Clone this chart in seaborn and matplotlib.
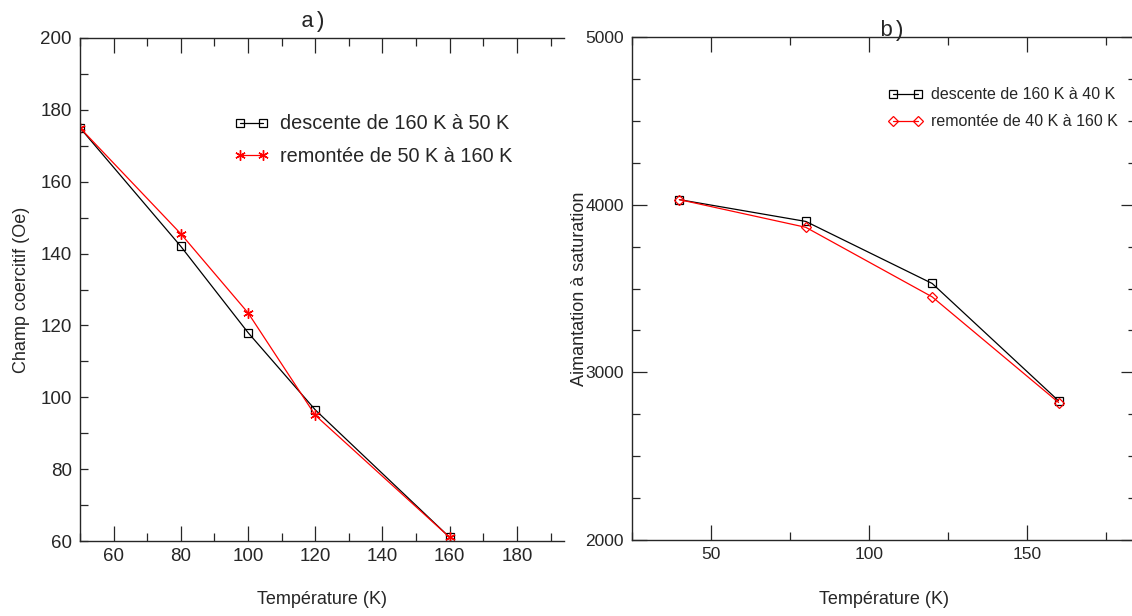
import matplotlib
matplotlib.use("Agg")
import matplotlib.pyplot as plt
import seaborn as sns
from matplotlib.ticker import MultipleLocator

# panel a) coercive field vs temperature
temp_a = [50, 80, 100, 120, 160]
champ_descente = [175, 142, 118, 96.5, 61]
champ_remontee = [175, 145.5, 123.5, 95, 61]
labels_a = ["descente de 160 K à 50 K", "remontée de 50 K à 160 K"]

# panel b) saturation magnetisation vs temperature
temp_b = [40, 80, 120, 160]
aim_descente = [4030, 3900, 3530, 2830]
aim_remontee = [4030, 3865, 3450, 2820]
labels_b = ["descente de 160 K à 40 K", "remontée de 40 K à 160 K"]

sns.set_style("ticks")
plt.rcParams['font.family'] = ['Liberation Sans', 'DejaVu Sans']
plt.rcParams['axes.linewidth'] = 1.0

W, H = 1132, 616
fig = plt.figure(figsize=(W / 100, H / 100), dpi=100)
ax1 = fig.add_axes([80 / W, 1 - 541 / H, 484 / W, 503 / H])
ax2 = fig.add_axes([632 / W, 1 - 540 / H, 504 / W, 503 / H])

# --- panel a
sns.lineplot(x=temp_a, y=champ_descente, ax=ax1, color='black', lw=0.9,
             marker='s', ms=6, mfc='none', mec='black', mew=0.9,
             label=labels_a[0])
sns.lineplot(x=temp_a, y=champ_remontee, ax=ax1, color='red', lw=0.9,
             marker=(6, 2, 0), ms=7.5, mec='red', mew=1.0,
             label=labels_a[1])
ax1.set_xlim(50, 194)
ax1.set_ylim(60, 200)
ax1.xaxis.set_minor_locator(MultipleLocator(10))
ax1.yaxis.set_major_locator(MultipleLocator(20))
ax1.yaxis.set_minor_locator(MultipleLocator(10))
ax1.set_xticks(range(60, 181, 20))
ax1.spines['right'].set_visible(False)
ax1.tick_params(which='both', direction='in', top=True, right=False, width=0.9,
                labelsize=13.5)
ax1.tick_params(axis='x', which='major', length=11, pad=5)
ax1.tick_params(axis='x', which='minor', length=6)
ax1.tick_params(axis='y', which='both', length=6, pad=6)
ax1.set_xlabel("Température (K)", fontsize=13, labelpad=19)
ax1.set_ylabel("Champ coercitif (Oe)", fontsize=13, labelpad=7)
ax1.set_title("a)", fontfamily='Liberation Mono', fontsize=16, pad=8, x=0.483)
ax1.legend(loc='upper left', bbox_to_anchor=(0.318, 0.848), frameon=False,
           numpoints=2, fontsize=14.3, handlelength=1.75, handletextpad=0.55,
           borderaxespad=0, borderpad=0, labelspacing=0.68)

# --- panel b
sns.lineplot(x=temp_b, y=aim_descente, ax=ax2, color='black', lw=0.9,
             marker='s', ms=6, mfc='none', mec='black', mew=0.9,
             label=labels_b[0])
sns.lineplot(x=temp_b, y=aim_remontee, ax=ax2, color='red', lw=0.9,
             marker='D', ms=5.5, mfc='none', mec='red', mew=0.9,
             label=labels_b[1])
ax2.set_xlim(25, 184.5)
ax2.set_ylim(2000, 5000)
ax2.xaxis.set_major_locator(MultipleLocator(50))
ax2.xaxis.set_minor_locator(MultipleLocator(25))
ax2.yaxis.set_major_locator(MultipleLocator(1000))
ax2.yaxis.set_minor_locator(MultipleLocator(250))
ax2.tick_params(which='both', direction='in', top=True, right=True, width=0.9,
                labelsize=12.5)
ax2.tick_params(which='major', length=11)
ax2.tick_params(which='minor', length=6)
ax2.tick_params(axis='x', pad=5)
ax2.tick_params(axis='y', pad=6)
ax2.set_xlabel("Température (K)", fontsize=13, labelpad=21)
ax2.set_ylabel("Aimantation à saturation", fontsize=13, labelpad=-2)
ax2.text(0.516, 1.012, "b)", transform=ax2.transAxes, ha='center',
         va='center', fontfamily='Liberation Mono', fontsize=16)
ax2.legend(loc='upper left', bbox_to_anchor=(0.508, 0.9), frameon=False,
           numpoints=2, fontsize=11.5, handlelength=2.2, handletextpad=0.5,
           borderaxespad=0, borderpad=0, labelspacing=0.75)

fig.savefig("out.png", dpi=100)
